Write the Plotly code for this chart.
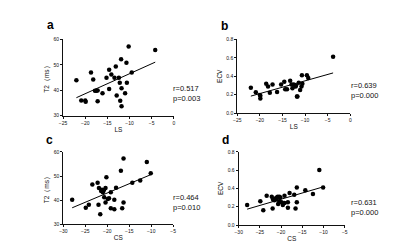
import numpy as np
import plotly.graph_objects as go

# Panel a: LS vs T2
a_ls = [-22.0, -20.9, -20.0, -19.9, -18.7, -18.2, -17.8, -17.5, -17.2, -17.2, -16.1, -15.2,
        -14.6, -14.6, -14.1, -13.4, -13.1, -12.9, -12.4, -12.2, -12.1, -11.9, -11.8, -11.8,
        -11.0, -10.7, -10.6, -10.2, -9.5, -4.2]
a_t2 = [43.9, 36.0, 36.0, 35.5, 47.0, 44.2, 39.8, 39.8, 39.9, 35.7, 38.8, 44.9,
        40.5, 48.0, 46.2, 44.9, 49.3, 37.9, 44.9, 42.9, 35.9, 52.2, 40.8, 33.7,
        38.8, 50.8, 42.9, 57.2, 47.0, 55.8]

# Panel b: LS vs ECV
b_ls = [-22.0, -20.9, -20.0, -19.9, -19.9, -18.6, -18.2, -17.8, -17.2, -16.2, -15.3, -14.6,
        -14.4, -14.0, -13.3, -13.0, -12.8, -12.5, -12.1, -12.0, -11.8, -11.7, -11.4, -11.1,
        -10.8, -10.7, -10.6, -9.6, -9.3, -3.8]
b_ecv = [0.275, 0.226, 0.197, 0.19, 0.16, 0.32, 0.29, 0.22, 0.31, 0.23, 0.31, 0.34,
         0.26, 0.26, 0.35, 0.31, 0.27, 0.31, 0.29, 0.30, 0.18, 0.18, 0.33, 0.25,
         0.29, 0.41, 0.32, 0.41, 0.38, 0.61]

# Panel c: CS vs T2
c_cs = [-28.0, -24.9, -24.2, -23.4, -22.2, -21.9, -22.0, -21.6, -21.4, -21.2, -21.0, -20.8,
        -20.7, -20.4, -20.2, -20.4, -19.9, -19.6, -19.2, -19.2, -18.4, -18.4, -18.0, -16.9,
        -16.6, -16.3, -16.3, -14.3, -12.5, -11.0, -10.1]
c_t2 = [40.2, 36.9, 38.1, 46.5, 47.2, 45.1, 38.1, 34.2, 43.8, 44.3, 43.3, 44.1,
        41.2, 45.1, 49.5, 39.1, 40.5, 40.8, 43.3, 36.7, 40.2, 36.3, 45.2, 52.2,
        36.7, 57.2, 39.1, 47.2, 48.2, 55.8, 51.1]

# Panel d: CS vs ECV
d_cs = [-28.0, -24.9, -24.2, -23.4, -22.2, -22.0, -21.9, -21.6, -21.4, -21.2, -21.0, -20.8,
        -20.7, -20.4, -20.4, -20.2, -19.9, -19.6, -19.2, -19.2, -18.4, -18.4, -18.0, -16.9,
        -16.6, -16.3, -16.3, -14.3, -12.5, -11.0, -10.1]
d_ecv = [0.22, 0.26, 0.16, 0.32, 0.31, 0.18, 0.28, 0.27, 0.29, 0.28, 0.30, 0.31,
         0.23, 0.31, 0.26, 0.30, 0.25, 0.22, 0.32, 0.24, 0.19, 0.25, 0.35, 0.33,
         0.18, 0.41, 0.25, 0.38, 0.34, 0.60, 0.41]

stats = ["r=0.517<br>p=0.003", "r=0.639<br>p=0.000", "r=0.464<br>p=0.010", "r=0.631<br>p=0.000"]
panel_letters = ["a", "b", "c", "d"]

W, H = 400, 249
def fx(px): return px / W
def fy(py): return 1 - py / H

panels = [
    dict(x=a_ls, y=a_t2, xd=[52, 164.7], yd=[107.3, 29], xr=[-25, 0], yr=[30, 60],
         xt=[-25, -20, -15, -10, -5, 0], yt=[30, 40, 50, 60], ytt=None,
         xtitle="LS", ytitle="T2（ms）", sx=161.7, sy=85),
    dict(x=b_ls, y=b_ecv, xd=[229.3, 344.3], yd=[104.7, 29], xr=[-25, 0], yr=[0, 0.8],
         xt=[-25, -20, -15, -10, -5, 0], yt=[0, 0.2, 0.4, 0.6, 0.8],
         ytt=["0.0", "0.2", "0.4", "0.6", "0.8"], xtitle="LS", ytitle="ECV", sx=343.3, sy=81.7),
    dict(x=c_cs, y=c_t2, xd=[52.3, 164], yd=[218.7, 144.3], xr=[-30, -5], yr=[30, 60],
         xt=[-30, -25, -20, -15, -10, -5], yt=[30, 40, 50, 60], ytt=None,
         xtitle="CS", ytitle="T2（ms）", sx=161.7, sy=196),
    dict(x=d_cs, y=d_ecv, xd=[230.7, 338.7], yd=[219.3, 144.3], xr=[-30, -5], yr=[0, 0.8],
         xt=[-30, -25, -20, -15, -10, -5], yt=[0, 0.2, 0.4, 0.6, 0.8],
         ytt=["0.0", "0.2", "0.4", "0.6", "0.8"], xtitle="CS", ytitle="ECV", sx=342.7, sy=201),
]

fig = go.Figure()
FONT = "Liberation Sans, Arial, sans-serif"
INK = "#111"
annotations = []
for i, p in enumerate(panels):
    n = "" if i == 0 else str(i + 1)
    xa, ya = "x" + n, "y" + n
    fig.add_trace(go.Scatter(x=p["x"], y=p["y"], mode="markers", xaxis=xa, yaxis=ya,
                             marker=dict(color="black", size=4.5), showlegend=False))
    xs = np.array(p["x"]); ys = np.array(p["y"])
    k, b = np.polyfit(xs, ys, 1)
    lx = np.array([xs.min(), xs.max()])
    fig.add_trace(go.Scatter(x=lx, y=k * lx + b, mode="lines", xaxis=xa, yaxis=ya,
                             line=dict(color="black", width=1), showlegend=False))
    axcommon = dict(showgrid=False, zeroline=False, showline=True, linecolor=INK,
                    linewidth=1, ticks="outside", ticklen=2, tickwidth=1, tickcolor=INK,
                    tickfont=dict(size=5, family=FONT, color=INK))
    fig.update_layout(**{
        ("xaxis" + n): dict(domain=[fx(p["xd"][0]), fx(p["xd"][1])], range=p["xr"],
                            tickvals=p["xt"], anchor=ya,
                            title=dict(text=p["xtitle"], font=dict(size=6.5, family=FONT, color=INK), standoff=2),
                            **axcommon),
        ("yaxis" + n): dict(domain=[fy(p["yd"][0]), fy(p["yd"][1])], range=p["yr"],
                            tickvals=p["yt"], ticktext=p["ytt"], anchor=xa,
                            title=dict(text=p["ytitle"], font=dict(size=6.5, family=FONT, color=INK), standoff=3),
                            **axcommon),
    })
    annotations.append(dict(x=fx(p["sx"]), y=fy(p["sy"]), xref="paper", yref="paper",
                            text=stats[i], showarrow=False, xanchor="left", yanchor="middle", align="left",
                            font=dict(size=7.5, family=FONT, color=INK)))

letter_pos = [(39.5, 14), (216.7, 15), (38.5, 132), (217.3, 132.5)]
for L, (lx_, ly_) in zip(panel_letters, letter_pos):
    annotations.append(dict(x=fx(lx_), y=fy(ly_), xref="paper", yref="paper", text="<b>" + L + "</b>",
                            showarrow=False, xanchor="center", yanchor="middle",
                            font=dict(size=12, family=FONT, color="black")))

fig.update_layout(width=W, height=H, margin=dict(l=0, r=0, t=0, b=0),
                  paper_bgcolor="white", plot_bgcolor="white", annotations=annotations)
fig.write_html("out.html")
